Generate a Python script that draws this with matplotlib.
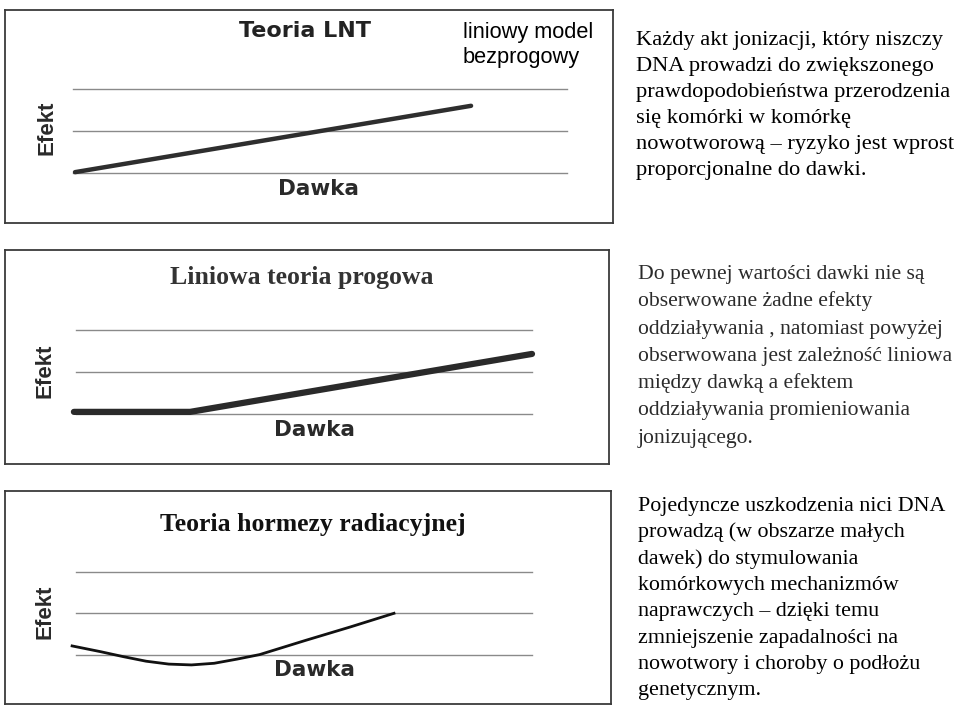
import matplotlib
matplotlib.use("Agg")
import matplotlib.pyplot as plt

W, H = 960, 709

# ---------------- data ----------------
# Panel 1: LNT (linear no-threshold)
lnt_dose = [0.0, 8.05]
lnt_effect = [0.02, 1.6]

# Panel 2: linear threshold
thr_dose = [-0.09, 2.47, 10.0]
thr_effect = [0.06, 0.06, 1.44]

# Panel 3: radiation hormesis
hor_dose = [-0.13, 0.5, 1.0, 1.5, 2.0, 2.5, 3.0, 3.5, 4.0, 5.0, 6.0, 6.96]
hor_effect = [0.21, 0.07, -0.05, -0.16, -0.23, -0.25, -0.21, -0.11, 0.0, 0.34, 0.67, 1.0]

grid_levels = [0, 1, 2]

titles = ["Teoria LNT", "Liniowa teoria progowa", "Teoria hormezy radiacyjnej"]
xlabel = "Dawka"
ylabel = "Efekt"
note = ["liniowy model", "bezprogowy"]

text1 = ["Każdy akt jonizacji, który niszczy",
         "DNA prowadzi do zwiększonego",
         "prawdopodobieństwa przerodzenia",
         "się komórki w komórkę",
         "nowotworową – ryzyko jest wprost",
         "proporcjonalne do dawki."]
text2 = ["Do pewnej wartości dawki nie są",
         "obserwowane żadne efekty",
         "oddziaływania , natomiast powyżej",
         "obserwowana jest zależność liniowa",
         "między dawką a efektem",
         "oddziaływania promieniowania",
         "jonizującego."]
text3 = ["Pojedyncze uszkodzenia nici DNA",
         "prowadzą (w obszarze małych",
         "dawek) do stymulowania",
         "komórkowych mechanizmów",
         "naprawczych – dzięki temu",
         "zmniejszenie zapadalności na",
         "nowotwory i choroby o podłożu",
         "genetycznym."]

fig = plt.figure(figsize=(W / 100, H / 100), dpi=100)
fig.patch.set_facecolor("white")


def fx(x):
    return x / W


def fy(y):
    return 1 - y / H


def panel(box, x0px, xunit, y0px, yunit, gx_end):
    """box: (left, top, right, bottom) in px; data origin at (x0px, y0px)."""
    l, t, r, b = box
    ax = fig.add_axes([fx(l), fy(b), (r - l) / W, (b - t) / H])
    ax.set_xlim((l - x0px) / xunit, (r - x0px) / xunit)
    ax.set_ylim((y0px - b) / yunit, (y0px - t) / yunit)
    ax.set_xticks([])
    ax.set_yticks([])
    for s in ax.spines.values():
        s.set_color("#3a3a3a")
        s.set_linewidth(1.3)
    for g in grid_levels:
        ax.plot([-0.05, gx_end], [g, g], color="#8a8a8a", lw=1.0, zorder=1)
    return ax


# Panel 1
ax1 = panel((5, 10, 613, 223), 75, 49.2, 173, 42.0, 10.0)
ax1.plot(lnt_dose, lnt_effect, color="#2e2e2e", lw=3.2, solid_capstyle="round", zorder=3)

# Panel 2
ax2 = panel((5, 250, 609, 464), 78, 45.4, 414.4, 42.0, 10.0)
ax2.plot(thr_dose, thr_effect, color="#2a2a2a", lw=4.5, solid_capstyle="round",
         solid_joinstyle="round", zorder=3)

# Panel 3
ax3 = panel((5, 491, 611, 704), 78, 45.4, 654.6, 41.3, 10.0)
ax3.plot(hor_dose, hor_effect, color="#111111", lw=2.0, zorder=3)

# ---- panel labels ----
bold_sans = dict(family="DejaVu Sans", weight="bold")
fig.text(fx(305), fy(37), titles[0], ha="center", va="baseline", fontsize=16,
         color="#222222", **bold_sans)
fig.text(fx(302), fy(284), titles[1], ha="center", va="baseline", fontsize=18.5,
         color="#333333", family="Liberation Serif", weight="bold")
fig.text(fx(313), fy(531), titles[2], ha="center", va="baseline", fontsize=18.5,
         color="#111111", family="Liberation Serif", weight="bold")

for cx, by in [(318, 195), (315, 436), (315, 676)]:
    fig.text(fx(cx), fy(by), xlabel, ha="center", va="baseline", fontsize=15.5,
             color="#2a2a2a", **bold_sans)
for cx, cy in [(47, 128), (45, 371), (45, 612)]:
    fig.text(fx(cx), fy(cy), ylabel, ha="center", va="center", rotation=90,
             fontsize=16, color="#2a2a2a", family="Liberation Sans", weight="bold")

fig.text(fx(463), fy(38), note[0], ha="left", va="baseline", fontsize=15.7,
         color="black", family="Liberation Sans")
fig.text(fx(463), fy(63), note[1], ha="left", va="baseline", fontsize=15.7,
         color="black", family="Liberation Sans")

# ---- right-hand descriptions ----
def block(lines, x, y0, dy, color, size):
    for i, s in enumerate(lines):
        fig.text(fx(x), fy(y0 + i * dy), s, ha="left", va="baseline", fontsize=size,
                 color=color, family="Liberation Serif")


block(text1, 636, 45, 26.0, "black", 16.2)
block(text2, 638, 279, 27.3, "#2b2b2b", 15.6)
block(text3, 638, 511, 26.3, "black", 15.8)

fig.savefig("out.png", dpi=100, facecolor="white")
